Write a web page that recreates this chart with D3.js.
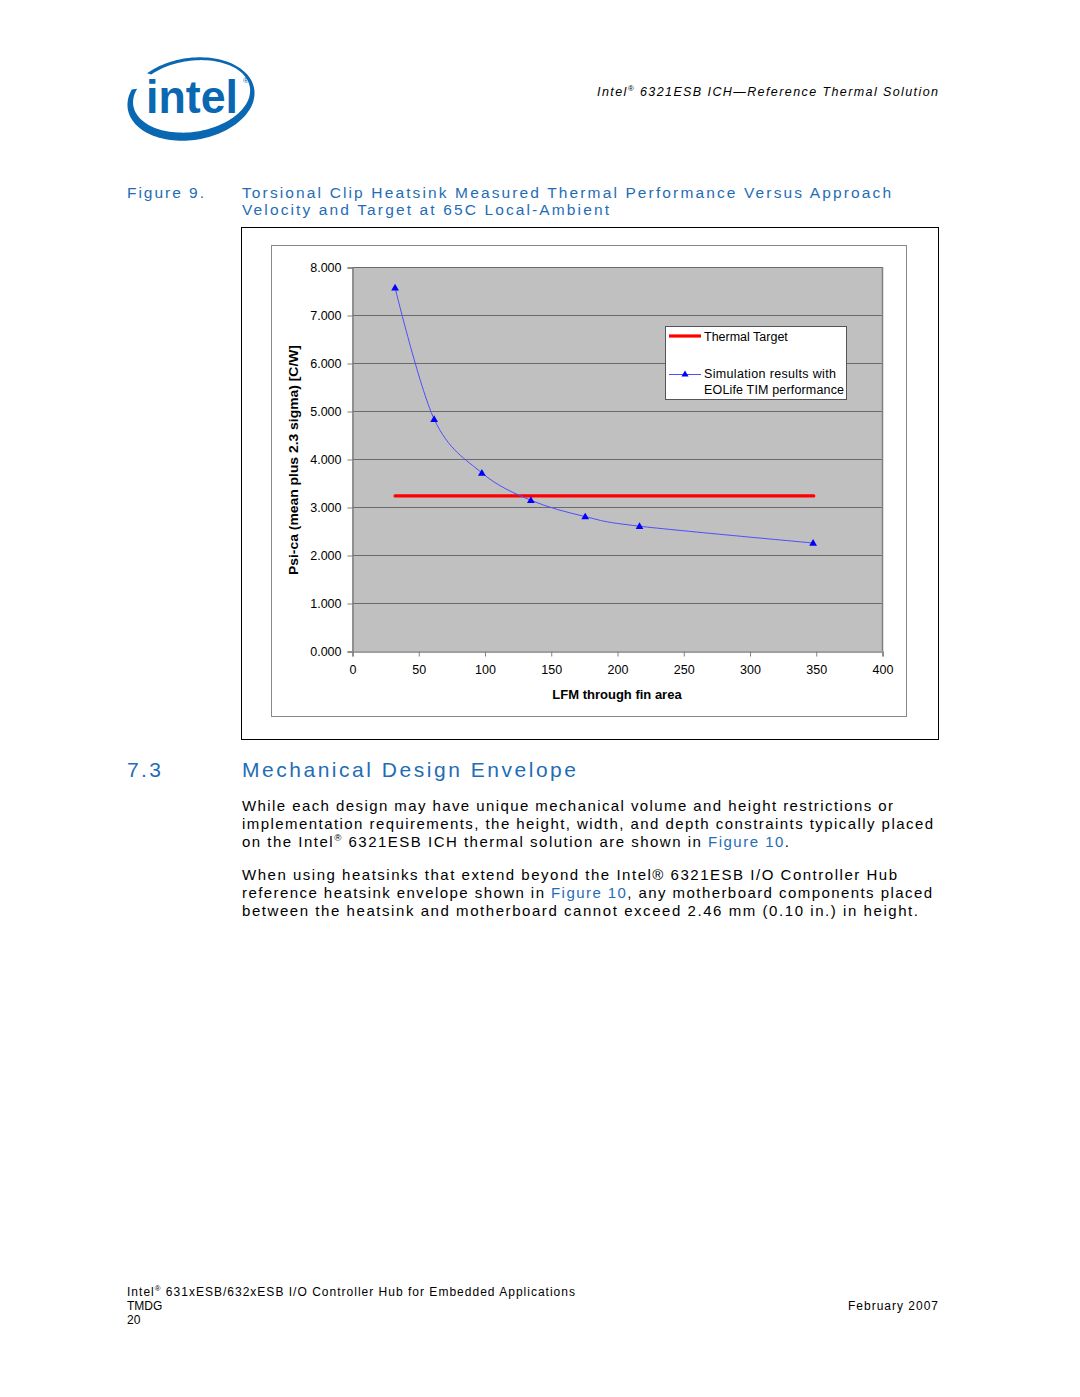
<!DOCTYPE html>
<html>
<head>
<meta charset="utf-8">
<script src="https://cdn.jsdelivr.net/npm/d3@7"></script>
<style>
html,body{margin:0;padding:0;background:#fff;}
svg{display:block;}
text{font-family:"Liberation Sans",Arial,sans-serif;}
</style>
</head>
<body>
<script>
// ---------- data ----------
const lfm = [32.5, 62, 98, 135, 176, 217, 348];
const psi = [7.57, 4.83, 3.71, 3.14, 2.80, 2.60, 2.25];
const targetX = [32.5, 348.5];
const targetValue = 3.23;
const xTicks = [0, 50, 100, 150, 200, 250, 300, 350, 400];
const yTicks = [0, 1, 2, 3, 4, 5, 6, 7, 8];
const seriesNames = ["Thermal Target", "Simulation results with", "EOLife TIM performance"];
const xTitle = "LFM through fin area";
const yTitle = "Psi-ca (mean plus 2.3 sigma) [C/W]";

const W = 1080, H = 1397;
const blue = "#1f6db6";
const svg = d3.select("body").append("svg").attr("width", W).attr("height", H);

// ---------- Intel logo ----------
(function(){
  const g = svg.append("g").attr("transform","translate(191,99) rotate(-9)");
  const pts = [];
  const a0 = -128*Math.PI/180, a1 = 207*Math.PI/180;
  const N = 120;
  for (let i=0;i<=N;i++){ const t=a0+(a1-a0)*i/N; pts.push([64*Math.cos(t), 41*Math.sin(t)]); }
  for (let i=N;i>=0;i--){ const t=a0+(a1-a0)*i/N; pts.push([59*Math.cos(t)+1, 35.5*Math.sin(t)-2.5]); }
  g.append("path").attr("d", d3.line()(pts)+"Z").attr("fill","#0a67b2");
  svg.append("text").attr("x",146).attr("y",113).attr("font-size",47).attr("font-weight","bold")
    .attr("fill","#0a67b2").attr("textLength",92).attr("lengthAdjust","spacingAndGlyphs").text("intel");
  svg.append("text").attr("x",243).attr("y",83).attr("font-size",8).attr("fill","#0a67b2").text("®");
})();

// ---------- helpers ----------
function line(x, y, parts, opts){
  const t = svg.append("text").attr("x", x).attr("y", y)
    .attr("font-size", opts.size).attr("fill", opts.color || "#000");
  if (opts.anchor) t.attr("text-anchor", opts.anchor);
  if (opts.style) t.attr("font-style", opts.style);
  if (opts.len) t.attr("textLength", opts.len).attr("lengthAdjust","spacing");
  if (opts.ls) t.attr("letter-spacing", opts.ls);
  parts.forEach(p => {
    if (typeof p === "string") t.append("tspan").text(p);
    else {
      const s = t.append("tspan").text(p.t);
      if (p.c) s.attr("fill", p.c);
      if (p.sup) s.attr("font-size", opts.size*0.65).attr("dy", -opts.size*0.4);
      if (p.down) s.attr("dy", opts.size*0.4*0.999);
    }
  });
  return t;
}

// header
line(597, 96, ["Intel", {t:"®", sup:true}, {t:" 6321ESB ICH\u2014Reference Thermal Solution", down:true}],
  {size:12.5, style:"italic", len:341});

// figure title
line(127, 198, ["Figure 9."], {size:15.5, color:blue, len:77});
line(242, 198, ["Torsional Clip Heatsink Measured Thermal Performance Versus Approach"], {size:15.5, color:blue, len:649});
line(242, 215, ["Velocity and Target at 65C Local-Ambient"], {size:15.5, color:blue, len:367});

// ---------- chart frames ----------
svg.append("rect").attr("x",241.5).attr("y",227.5).attr("width",697).attr("height",512)
  .attr("fill","#fff").attr("stroke","#000").attr("stroke-width",1);
svg.append("rect").attr("x",271.5).attr("y",245.5).attr("width",635).attr("height",471)
  .attr("fill","#fff").attr("stroke","#888").attr("stroke-width",1);

const x = d3.scaleLinear().domain([0,400]).range([352,882]);
const y = d3.scaleLinear().domain([0,8]).range([651,267]);

// plot area
svg.append("rect").attr("x",x(0)).attr("y",y(8)).attr("width",x(400)-x(0)).attr("height",y(0)-y(8))
  .attr("fill","#c0c0c0");
// gridlines
svg.append("g").selectAll("line").data(yTicks.filter(d=>d>0)).join("line")
  .attr("x1",x(0)).attr("x2",x(400)).attr("y1",d=>Math.round(y(d))+0.5).attr("y2",d=>Math.round(y(d))+0.5)
  .attr("stroke","#6a6a6a").attr("stroke-width",1);
// right border
svg.append("line").attr("x1",x(400)+0.5).attr("x2",x(400)+0.5).attr("y1",y(8)).attr("y2",y(0))
  .attr("stroke","#808080").attr("stroke-width",1.5);

// axes
const yAxis = svg.append("g").attr("transform",`translate(${x(0)+0.5},0.5)`)
  .call(d3.axisLeft(y).tickValues(yTicks).tickFormat(d3.format(".3f")).tickSize(5).tickPadding(6));
const xAxis = svg.append("g").attr("transform",`translate(0.5,${y(0)+0.5})`)
  .call(d3.axisBottom(x).tickValues(xTicks).tickFormat(d3.format("d")).tickSize(5).tickPadding(9));
[yAxis, xAxis].forEach(a => {
  a.select(".domain").attr("stroke","#808080").attr("stroke-width",1.5);
  a.selectAll(".tick line").attr("stroke","#808080");
  a.selectAll(".tick text").attr("font-family","Liberation Sans, Arial, sans-serif").attr("font-size",12.5).attr("fill","#000");
});

// axis titles
svg.append("text").attr("x",617).attr("y",699).attr("text-anchor","middle")
  .attr("font-size",13).attr("font-weight","bold").text(xTitle);
svg.append("text").attr("transform","translate(298,460) rotate(-90)").attr("text-anchor","middle")
  .attr("font-size",13).attr("font-weight","bold").attr("textLength",230).attr("lengthAdjust","spacingAndGlyphs").text(yTitle);

// target line
svg.append("line").attr("x1",x(targetX[0])).attr("x2",x(targetX[1]))
  .attr("y1",y(targetValue)).attr("y2",y(targetValue))
  .attr("stroke","#ff0000").attr("stroke-width",3.2).attr("stroke-linecap","round");

// simulation curve
const pts = lfm.map((v,i)=>[v, psi[i]]);
svg.append("path").datum(pts)
  .attr("d", d3.line().x(d=>x(d[0])).y(d=>y(d[1])).curve(d3.curveCatmullRom.alpha(0)))
  .attr("fill","none").attr("stroke","#4d4dff").attr("stroke-width",1);
svg.append("g").selectAll("path").data(pts).join("path")
  .attr("transform", d=>`translate(${x(d[0])},${y(d[1])+0.5})`)
  .attr("d", d3.symbol(d3.symbolTriangle, 26)).attr("fill","#0000ff");

// legend
svg.append("rect").attr("x",665.5).attr("y",326.5).attr("width",181).attr("height",73)
  .attr("fill","#fff").attr("stroke","#555").attr("stroke-width",1);
svg.append("line").attr("x1",669).attr("x2",701).attr("y1",336).attr("y2",336)
  .attr("stroke","#ff0000").attr("stroke-width",3.2);
svg.append("text").attr("x",704).attr("y",341).attr("font-size",12.5).text(seriesNames[0]);
svg.append("line").attr("x1",669).attr("x2",701).attr("y1",374.5).attr("y2",374.5)
  .attr("stroke","#4d4dff").attr("stroke-width",1);
svg.append("path").attr("transform","translate(685,374.5)").attr("d", d3.symbol(d3.symbolTriangle, 22)).attr("fill","#0000ff");
svg.append("text").attr("x",704).attr("y",378).attr("font-size",12.5).attr("textLength",132).attr("lengthAdjust","spacing").text(seriesNames[1]);
svg.append("text").attr("x",704).attr("y",394).attr("font-size",12.5).attr("textLength",140).attr("lengthAdjust","spacing").text(seriesNames[2]);

// ---------- section ----------
line(127, 777, ["7.3"], {size:21, color:blue, len:34});
line(242, 777, ["Mechanical Design Envelope"], {size:21, color:blue, len:334});

const bs = 15;
line(242, 811, ["While each design may have unique mechanical volume and height restrictions or"], {size:bs, len:651});
line(242, 829, ["implementation requirements, the height, width, and depth constraints typically placed"], {size:bs, len:691});
line(242, 847, ["on the Intel", {t:"®", sup:true}, {t:" 6321ESB ICH thermal solution are shown in ", down:true}, {t:"Figure 10", c:blue}, "."], {size:bs, len:547});
line(242, 880, ["When using heatsinks that extend beyond the Intel® 6321ESB I/O Controller Hub"], {size:bs, len:655});
line(242, 898, ["reference heatsink envelope shown in ", {t:"Figure 10", c:blue}, ", any motherboard components placed"], {size:bs, len:690});
line(242, 916, ["between the heatsink and motherboard cannot exceed 2.46 mm (0.10 in.) in height."], {size:bs, len:676});

// ---------- footer ----------
line(127, 1296, ["Intel", {t:"®", sup:true}, {t:" 631xESB/632xESB I/O Controller Hub for Embedded Applications", down:true}], {size:12, len:448});
line(127, 1310, ["TMDG"], {size:12});
line(127, 1324, ["20"], {size:12});
line(848, 1310, ["February 2007"], {size:12, len:90});
</script>
</body>
</html>
